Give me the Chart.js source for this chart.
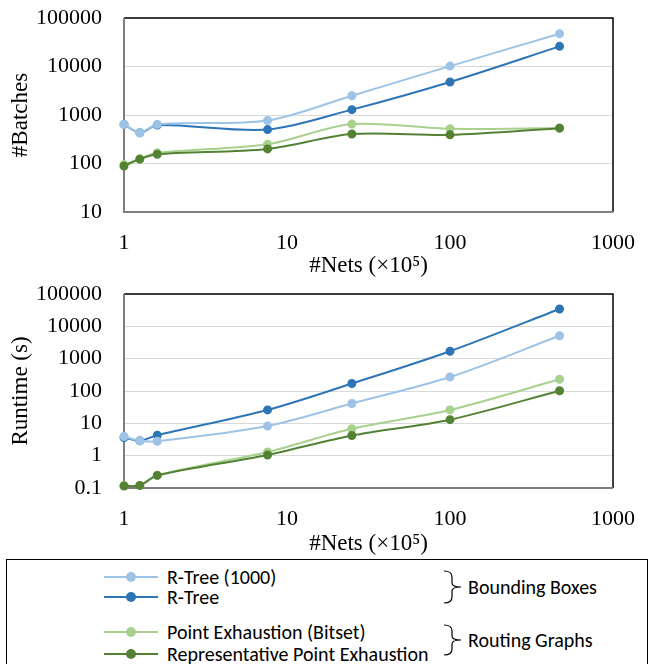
<!DOCTYPE html>
<html>
<head>
<meta charset="utf-8">
<script src="https://cdn.jsdelivr.net/npm/chart.js@4.4.1/dist/chart.umd.min.js"></script>
<style>
  body { margin: 0; background: #fff; width: 649px; height: 664px; overflow: hidden; position: relative; }
  canvas { position: absolute; left: 0; }
  #batchesChart { top: 0; }
  #runtimeChart { top: 280px; }
  #legendBox {
    position: absolute; left: 6px; top: 559px; width: 642px; height: 120px;
    border: 1.5px solid #000; box-sizing: border-box;
    font-family: Carlito, Lato, "Open Sans", sans-serif; font-size: 20px; color: #000;
  }
  .item { position: absolute; left: 97px; height: 22px; line-height: 22px; white-space: nowrap; }
  .item svg { position: absolute; left: 0; top: 6px; }
  .item span { position: absolute; left: 63px; }
  .group { position: absolute; left: 436px; white-space: nowrap; }
  .group svg { position: absolute; left: 0; top: 0; }
  .group span { position: absolute; left: 25px; line-height: 22px; }
</style>
</head>
<body>
<canvas id="batchesChart" width="649" height="280"></canvas>
<canvas id="runtimeChart" width="649" height="278"></canvas>
<div id="legendBox"></div>
<script>
// x values: number of nets (x10^5)
const netsX = [1, 1.25, 1.6, 7.6, 25, 100, 470];
const seriesNames = ["R-Tree (1000)", "R-Tree", "Point Exhaustion (Bitset)", "Representative Point Exhaustion"];
const seriesColors = ["#9dc3e6", "#2e75b6", "#a9d18e", "#548235"];
const groupNames = ["Bounding Boxes", "Routing Graphs"];

// #Batches
const batchesRTree1000 = [640, 430, 640, 770, 2500, 10200, 47500];
const batchesRTree = [640, 430, 620, 500, 1290, 4800, 26000];
const batchesBitset = [95, 125, 166, 250, 650, 520, 540];
const batchesRepPoint = [89, 123, 155, 200, 405, 390, 535];

// Runtime (s)
const runtimeRTree1000 = [3.9, 2.9, 2.8, 8.3, 41, 270, 5100];
const runtimeRTree = [3.6, 2.9, 4.3, 26, 170, 1700, 34500];
const runtimeBitset = [0.12, 0.12, 0.25, 1.3, 6.8, 26, 230];
const runtimeRepPoint = [0.115, 0.12, 0.245, 1.05, 4.2, 13, 102];

const xTicks = [1, 10, 100, 1000];
const batchesTicks = [10, 100, 1000, 10000, 100000];
const runtimeTicks = [0.1, 1, 10, 100, 1000, 10000, 100000];

const drawOrder = [1, 2, 4, 3]; // dark green sits above light green

const frame = {
    id: "frame",
    beforeDatasetsDraw(chart) {
        const { ctx, chartArea: a } = chart;
        ctx.save();
        ctx.lineWidth = 1.5;
        ctx.strokeStyle = "#000";
        ctx.beginPath();
        ctx.moveTo(a.left, a.top);
        ctx.lineTo(a.right, a.top);
        ctx.lineTo(a.right, a.bottom);
        ctx.stroke();
        ctx.strokeStyle = "#7f7f7f";
        ctx.lineWidth = 2;
        ctx.beginPath();
        ctx.moveTo(a.left, a.top);
        ctx.lineTo(a.left, a.bottom);
        ctx.lineTo(a.right, a.bottom);
        ctx.stroke();
        ctx.restore();
    },
};

function makeChart(id, seriesList, yTicks, yTitle, padTop, xAxisHeight) {
    const ctx = document.getElementById(id).getContext("2d");
    const serif = "'Liberation Serif', 'Times New Roman', serif";
    return new Chart(ctx, {
        type: "line",
        data: {
            datasets: seriesList.map((vals, i) => ({
                label: seriesNames[i],
                data: vals.map((v, j) => ({ x: netsX[j], y: v })),
                borderColor: seriesColors[i],
                backgroundColor: seriesColors[i],
                pointBackgroundColor: seriesColors[i],
                pointBorderColor: seriesColors[i],
                pointRadius: 3.5,
                borderWidth: 2,
                tension: 0.3,
                clip: false,
                order: drawOrder[i],
            })),
        },
        options: {
            responsive: false,
            animation: false,
            events: [],
            layout: { padding: { top: padTop, right: 36, left: 0, bottom: 0 } },
            plugins: { legend: { display: false }, tooltip: { enabled: false } },
            scales: {
                x: {
                    type: "logarithmic",
                    min: xTicks[0],
                    max: xTicks[xTicks.length - 1],
                    afterBuildTicks: (s) => { s.ticks = xTicks.map((v) => ({ value: v })); },
                    afterFit: (s) => { s.height = xAxisHeight; s.paddingLeft = 0; s.paddingRight = 0; },
                    ticks: {
                        autoSkip: false, maxRotation: 0, padding: 18, color: "#000",
                        font: { family: serif, size: 22 },
                        callback: (v) => String(v),
                    },
                    grid: { display: false, drawTicks: false },
                    border: { display: false },
                    title: {
                        display: true, text: "#Nets (×10⁵)", color: "#000", padding: 0,
                        font: { family: serif, size: 23 },
                    },
                },
                y: {
                    type: "logarithmic",
                    min: yTicks[0],
                    max: yTicks[yTicks.length - 1],
                    afterBuildTicks: (s) => { s.ticks = yTicks.map((v) => ({ value: v })); },
                    afterFit: (s) => { s.width = 124; s.paddingTop = 0; s.paddingBottom = 0; },
                    ticks: {
                        padding: 22, color: "#000",
                        font: { family: serif, size: 22 },
                        callback: (v) => String(v),
                    },
                    grid: { color: "#d9d9d9", lineWidth: 1, drawTicks: false },
                    border: { display: false },
                    title: {
                        display: true, text: yTitle, color: "#000", padding: { top: 7, bottom: 0 },
                        font: { family: serif, size: 23 },
                    },
                },
            },
        },
        plugins: [frame],
    });
}

makeChart("batchesChart", [batchesRTree1000, batchesRTree, batchesBitset, batchesRepPoint],
    batchesTicks, "#Batches", 18, 68);
makeChart("runtimeChart", [runtimeRTree1000, runtimeRTree, runtimeBitset, runtimeRepPoint],
    runtimeTicks, "Runtime (s)", 14, 70);

// legend with grouping braces
const box = document.getElementById("legendBox");
const itemTops = [6, 26, 61, 83];
seriesNames.forEach((name, i) => {
    const c = seriesColors[i];
    const el = document.createElement("div");
    el.className = "item";
    el.style.top = itemTops[i] + "px";
    el.innerHTML = '<svg width="54" height="10"><line x1="0" y1="5" x2="54" y2="5" stroke="' + c +
        '" stroke-width="2"/><circle cx="27" cy="5" r="5" fill="' + c + '"/></svg><span>' + name + "</span>";
    box.appendChild(el);
});
const groupTops = [10, 64];
const groupHeights = [34, 32];
groupNames.forEach((name, i) => {
    const h = groupHeights[i];
    const el = document.createElement("div");
    el.className = "group";
    el.style.top = groupTops[i] + "px";
    const m = h / 2;
    el.innerHTML = '<svg width="22" height="' + h + '"><path d="M1,1 Q9,1 9,7 L9,' + (m - 4) + ' Q9,' + m + ' 18,' + m +
        ' Q9,' + m + ' 9,' + (m + 4) + ' L9,' + (h - 7) + ' Q9,' + (h - 1) + ' 1,' + (h - 1) +
        '" fill="none" stroke="#000" stroke-width="1.2"/></svg><span style="top:' + (m - 11) + 'px">' + name + "</span>";
    box.appendChild(el);
});
</script>
</body>
</html>
